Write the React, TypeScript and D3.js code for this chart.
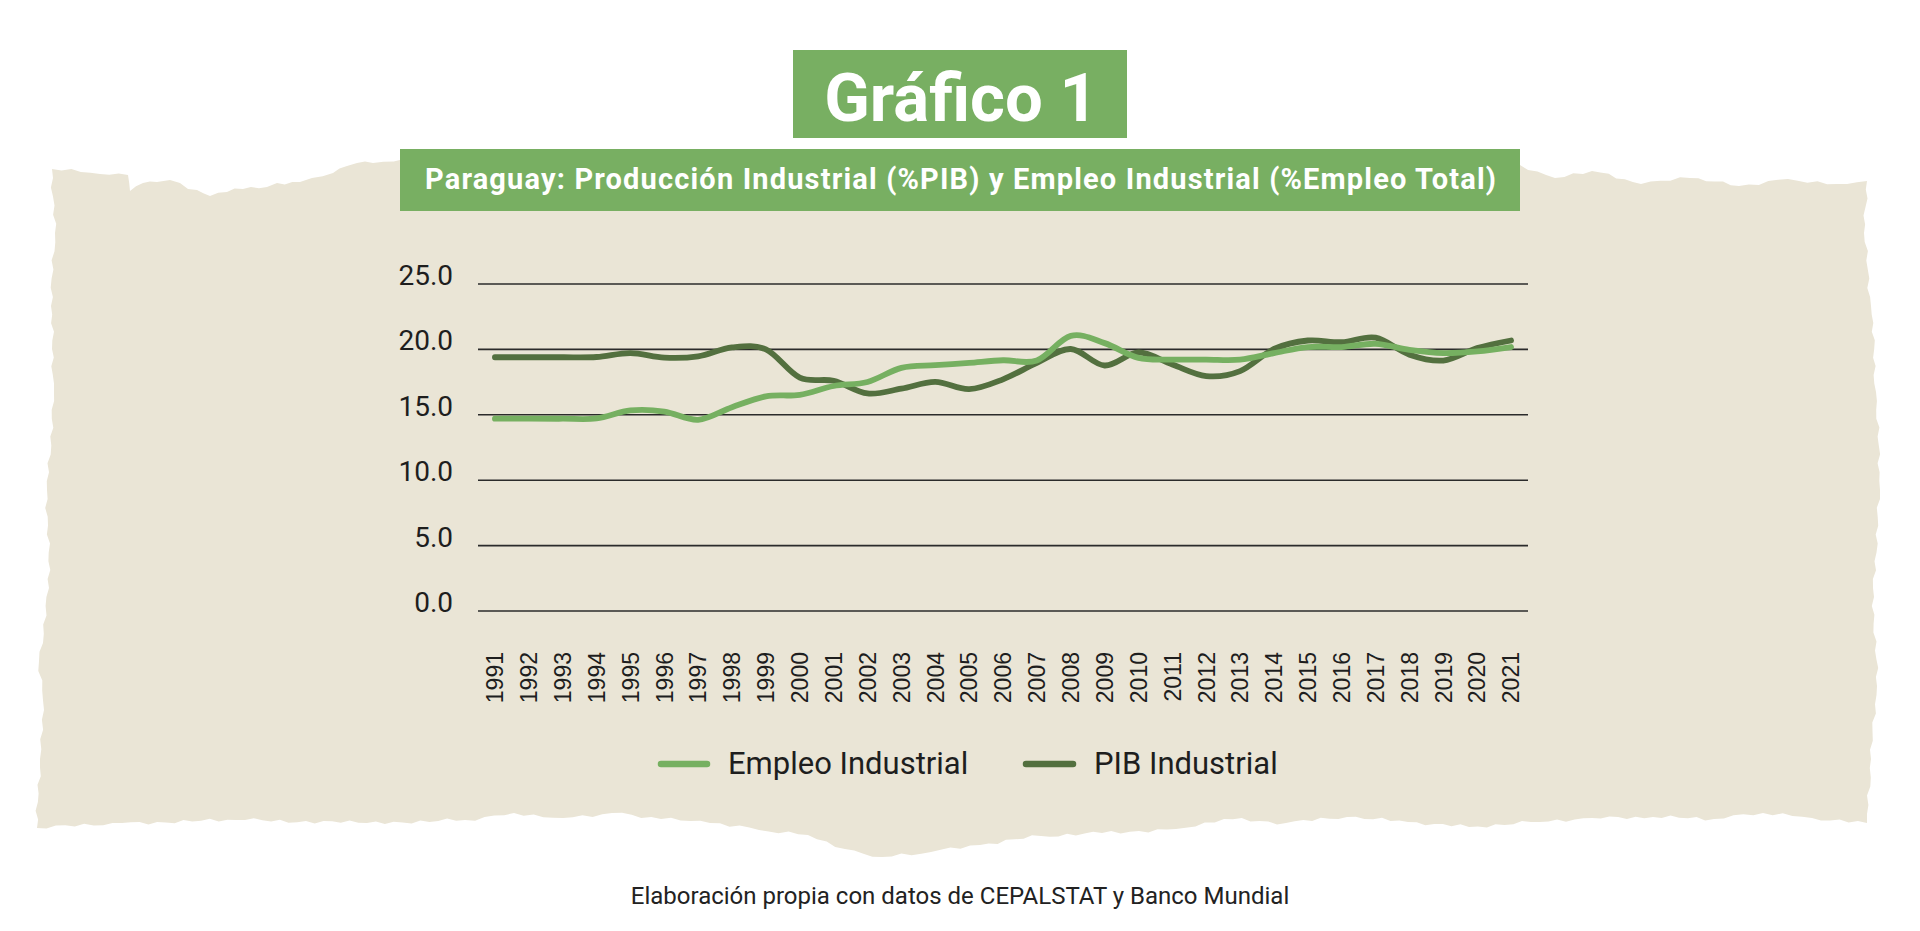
import React from "react";
import * as d3 from "d3";

// ---------- DATA ----------
const years: string[] = [
  "1991", "1992", "1993", "1994", "1995", "1996", "1997", "1998", "1999", "2000",
  "2001", "2002", "2003", "2004", "2005", "2006", "2007", "2008", "2009", "2010",
  "2011", "2012", "2013", "2014", "2015", "2016", "2017", "2018", "2019", "2020", "2021",
];

const empleoIndustrial: number[] = [
  14.7, 14.7, 14.7, 14.72, 15.33, 15.25, 14.62, 15.58, 16.41, 16.53,
  17.2, 17.51, 18.59, 18.79, 18.97, 19.17, 19.15, 21.03, 20.48, 19.35,
  19.22, 19.22, 19.22, 19.72, 20.18, 20.18, 20.43, 19.97, 19.72, 19.85, 20.18,
];

const pibIndustrial: number[] = [
  19.4, 19.4, 19.4, 19.42, 19.72, 19.37, 19.47, 20.15, 20.0, 17.84,
  17.6, 16.63, 17.0, 17.51, 16.96, 17.71, 18.97, 20.03, 18.77, 19.77,
  18.84, 17.96, 18.34, 20.03, 20.68, 20.55, 20.9, 19.6, 19.15, 20.1, 20.68,
];

const yTicks: number[] = [0, 5, 10, 15, 20, 25];

const seriesNames: string[] = ["Empleo Industrial", "PIB Industrial"];

const titleText = "Gráfico 1";
const subtitleText =
  "Paraguay: Producción Industrial (%PIB) y Empleo Industrial (%Empleo Total)";
const footerText = "Elaboración propia con datos de CEPALSTAT y Banco Mundial";

// ---------- STYLE ----------
const W = 1920;
const H = 931;
const PAPER = "#EAE5D6";
const BOX_GREEN = "#78AF62";
const LIGHT = "#76B061";
const DARK = "#53703F";

// torn paper outline (decoration)
const paperOutline: [number, number][] = [
  [52, 169], [100, 174], [128, 175], [130, 191], [143, 183], [157, 182], [170, 180],
  [180, 183], [188, 189], [197, 190], [210, 196], [227, 192], [243, 189], [267, 187],
  [277, 183], [300, 182], [312, 178], [333, 173], [347, 166], [357, 163], [373, 163],
  [404, 159], [1520, 165], [1555, 178], [1592, 171], [1641, 184], [1690, 178],
  [1739, 186], [1788, 179], [1837, 184], [1867, 181], [1864, 233], [1871, 306],
  [1876, 392], [1880, 490], [1873, 588], [1877, 686], [1871, 759], [1867, 814],
  [1867, 823], [1812, 818], [1763, 813], [1714, 819], [1653, 817], [1592, 818],
  [1531, 822], [1469, 827], [1408, 822], [1347, 817], [1286, 823], [1224, 819],
  [1176, 829], [1102, 833], [1041, 836], [980, 845], [931, 852], [882, 857],
  [845, 849], [808, 835], [759, 830], [710, 823], [661, 819], [612, 813],
  [563, 818], [514, 813], [465, 820], [367, 823], [245, 820], [122, 823],
  [37, 828], [40, 759], [44, 710], [39, 661], [49, 588], [47, 490], [54, 392],
  [51, 306], [55, 233],
];

function tornPath(pts: [number, number][]): string {
  // add small deterministic roughness between outline points
  const out: [number, number][] = [];
  for (let i = 0; i < pts.length; i++) {
    const a = pts[i];
    const b = pts[(i + 1) % pts.length];
    const len = Math.hypot(b[0] - a[0], b[1] - a[1]);
    const n = Math.max(1, Math.round(len / 9));
    const nx = -(b[1] - a[1]) / (len || 1);
    const ny = (b[0] - a[0]) / (len || 1);
    for (let k = 0; k < n; k++) {
      const t = k / n;
      const j = k === 0 ? 0 : 1.4 * Math.sin(i * 7.1 + k * 2.3) + 0.8 * Math.sin(k * 5.7 + i);
      out.push([a[0] + (b[0] - a[0]) * t + nx * j, a[1] + (b[1] - a[1]) * t + ny * j]);
    }
  }
  return "M" + out.map((p) => p[0].toFixed(1) + "," + p[1].toFixed(1)).join("L") + "Z";
}

export default function App() {
  const x = d3.scalePoint<string>().domain(years).range([478, 1528]).padding(0.5);
  const y = d3.scaleLinear().domain([0, 25]).range([611, 284]);
  const fmt = d3.format(".1f");

  const line = d3
    .line<number>()
    .x((_, i) => x(years[i]) as number)
    .y((d) => y(d))
    .curve(d3.curveCatmullRom.alpha(0));

  const font = "Roboto, 'Noto Sans', sans-serif";

  return (
    <div style={{ position: "absolute", left: 0, top: 0, width: W, height: H, background: "#fff" }}>
      <svg width={W} height={H} viewBox={`0 0 ${W} ${H}`} style={{ display: "block" }}>
        <rect x={0} y={0} width={W} height={H} fill="#fff" />
        <path d={tornPath(paperOutline)} fill={PAPER} />

        {/* title */}
        <rect x={793} y={50} width={334} height={88} fill={BOX_GREEN} />
        <text x={961} y={121} textAnchor="middle" fill="#fff" fontFamily={font} fontWeight={700} fontSize={67}>
          {titleText}
        </text>

        {/* subtitle */}
        <rect x={400} y={149} width={1120} height={62} fill={BOX_GREEN} />
        <text
          x={425}
          y={189}
          fill="#fff"
          fontFamily={font}
          fontWeight={700}
          fontSize={29}
          textLength={1071}
          lengthAdjust="spacing"
        >
          {subtitleText}
        </text>

        {/* gridlines & y labels */}
        {yTicks.map((t) => (
          <g key={t}>
            <line x1={478} x2={1528} y1={y(t)} y2={y(t)} stroke="#2b2b2b" strokeWidth={1.6} />
            <text x={453} y={y(t) + 1} textAnchor="end" fill="#1e1e1e" fontFamily={font} fontSize={28}>
              {fmt(t)}
            </text>
          </g>
        ))}

        {/* x labels */}
        {years.map((yr) => (
          <text
            key={yr}
            transform={`translate(${x(yr)},652) rotate(-90)`}
            dy="0.36em"
            textAnchor="end"
            fill="#1e1e1e"
            fontFamily="'Liberation Sans', Arial, sans-serif"
            fontSize={23}
          >
            {yr}
          </text>
        ))}

        {/* series */}
        <path d={line(pibIndustrial) || ""} fill="none" stroke={DARK} strokeWidth={5.8} strokeLinecap="round" strokeLinejoin="round" />
        <path d={line(empleoIndustrial) || ""} fill="none" stroke={LIGHT} strokeWidth={5.8} strokeLinecap="round" strokeLinejoin="round" />

        {/* legend */}
        <line x1={661} x2={707} y1={764} y2={764} stroke={LIGHT} strokeWidth={6.5} strokeLinecap="round" />
        <text x={728} y={774} fill="#1e1e1e" fontFamily={font} fontSize={31}>
          {seriesNames[0]}
        </text>
        <line x1={1026} x2={1073} y1={764} y2={764} stroke={DARK} strokeWidth={6.5} strokeLinecap="round" />
        <text x={1094} y={774} fill="#1e1e1e" fontFamily={font} fontSize={31}>
          {seriesNames[1]}
        </text>

        {/* footer */}
        <text x={960} y={904} textAnchor="middle" fill="#222" fontFamily={font} fontSize={24}>
          {footerText}
        </text>
      </svg>
    </div>
  );
}
